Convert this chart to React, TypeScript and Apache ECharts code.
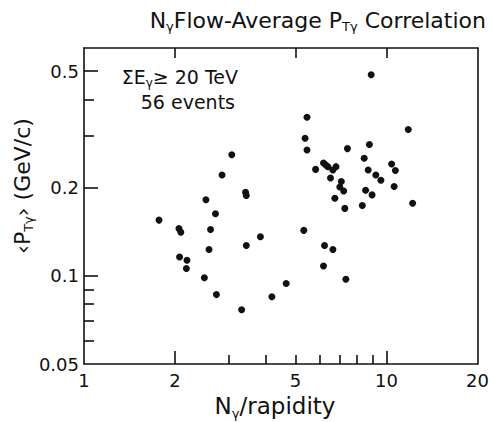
import React, { useEffect, useRef } from "react";
import * as echarts from "echarts";

// N_gamma per unit rapidity (x) and mean transverse momentum <P_T gamma> in GeV/c (y), one entry per event
const nGammaPerRapidity: number[] = [
  1.77, 2.06, 2.09, 2.07, 2.19, 2.18, 2.5, 2.53, 2.59, 2.62,
  2.72, 2.74, 2.86, 3.08, 3.32, 3.42, 3.44, 3.44, 3.83, 4.18,
  4.66, 5.33, 5.38, 5.46, 5.46, 5.83, 6.19, 6.24, 6.65, 6.19,
  6.4, 6.81, 6.65, 6.53, 7.09, 7.01, 7.22, 6.75, 7.28, 7.34,
  7.43, 8.32, 8.44, 8.53, 8.7, 8.78, 8.96, 8.9, 9.22, 9.58,
  10.4, 10.7, 10.6, 11.8, 12.2, 6.3,
];
const meanPtGamma: number[] = [
  0.155, 0.145, 0.141, 0.116, 0.113, 0.106, 0.0985, 0.182, 0.123, 0.144,
  0.163, 0.0863, 0.221, 0.259, 0.0766, 0.193, 0.188, 0.127, 0.136, 0.0849,
  0.0942, 0.143, 0.295, 0.269, 0.348, 0.231, 0.108, 0.127, 0.123, 0.243,
  0.236, 0.236, 0.23, 0.216, 0.21, 0.201, 0.195, 0.184, 0.17, 0.0973,
  0.272, 0.174, 0.252, 0.196, 0.23, 0.281, 0.189, 0.486, 0.221, 0.212,
  0.241, 0.229, 0.202, 0.316, 0.177, 0.239,
];

const xLabelValues: number[] = [1, 2, 5, 10, 20];
const xMajorTicks: number[] = [2, 10];
const xMinorTicks: number[] = [3, 4, 5, 6, 7, 8, 9];
const xTopTicks: number[] = [2, 5, 10];
const yLabelValues: number[] = [0.05, 0.1, 0.2, 0.5];
const yMajorTicks: number[] = [0.1, 0.2, 0.5];
const yMinorTicks: number[] = [0.06, 0.07, 0.08, 0.09, 0.3, 0.4];

const X_MIN = 1;
const X_MAX = 20;
const Y_MIN = 0.05;
const Y_MAX = 0.6;

const FONT = "DejaVu Sans";
const INK = "#111";

export default function App() {
  const ref = useRef<HTMLDivElement>(null);

  useEffect(() => {
    document.body.style.margin = "0";
    if (!ref.current) return;
    const chart = echarts.init(ref.current, undefined, { renderer: "svg" });
    const data = nGammaPerRapidity.map((x, i) => [x, meanPtGamma[i]]);
    const fmt = (v: number) => String(Number(v.toPrecision(3)));

    const baseX = {
      type: "log" as const,
      logBase: 10,
      min: X_MIN,
      max: X_MAX,
      gridIndex: 0,
      splitLine: { show: false },
    };
    const baseY = {
      type: "log" as const,
      logBase: 10,
      min: Y_MIN,
      max: Y_MAX,
      gridIndex: 0,
      splitLine: { show: false },
    };
    const lineStyle = { color: INK, width: 1.6 };

    chart.setOption({
      animation: false,
      backgroundColor: "#fff",
      grid: { left: 84, right: 12, top: 48, bottom: 58, containLabel: false },
      xAxis: [
        {
          ...baseX,
          position: "bottom",
          axisLine: { show: true, lineStyle },
          axisTick: { show: true, inside: true, length: 13, customValues: xMajorTicks, lineStyle },
          axisLabel: {
            show: true,
            customValues: xLabelValues,
            formatter: fmt,
            margin: 7,
            fontFamily: FONT,
            fontSize: 18,
            color: INK,
          },
        },
        {
          ...baseX,
          position: "bottom",
          axisLine: { show: false },
          axisTick: { show: true, inside: true, length: 9, customValues: xMinorTicks, lineStyle },
          axisLabel: { show: false },
        },
        {
          ...baseX,
          position: "top",
          axisLine: { show: true, lineStyle },
          axisTick: { show: true, inside: true, length: 10, customValues: xTopTicks, lineStyle },
          axisLabel: { show: false },
        },
      ],
      yAxis: [
        {
          ...baseY,
          position: "left",
          axisLine: { show: true, lineStyle },
          axisTick: { show: true, inside: true, length: 14, customValues: yMajorTicks, lineStyle },
          axisLabel: {
            show: true,
            customValues: yLabelValues,
            formatter: fmt,
            margin: 5,
            fontFamily: FONT,
            fontSize: 18,
            color: INK,
          },
        },
        {
          ...baseY,
          position: "left",
          axisLine: { show: false },
          axisTick: { show: true, inside: true, length: 10, customValues: yMinorTicks, lineStyle },
          axisLabel: { show: false },
        },
        {
          ...baseY,
          position: "right",
          axisLine: { show: true, lineStyle },
          axisTick: { show: false },
          axisLabel: { show: false },
        },
      ],
      series: [
        {
          type: "scatter",
          xAxisIndex: 0,
          yAxisIndex: 0,
          data,
          symbol: "circle",
          symbolSize: 7,
          itemStyle: { color: INK, opacity: 1 },
        },
      ],
      graphic: [
        {
          type: "text",
          x: 486,
          y: 20,
          style: {
            text: "{a|N}{b|γ}{a|Flow-Average P}{b|Tγ}{a| Correlation}",
            align: "right",
            verticalAlign: "middle",
            rich: {
              a: { fontFamily: FONT, fontSize: 22, lineHeight: 26, fill: INK },
              b: { fontFamily: FONT, fontSize: 13, lineHeight: 13, verticalAlign: "bottom", fill: INK },
            },
          },
        },
        {
          type: "text",
          x: 238,
          y: 77,
          style: {
            text: "{a|ΣE}{b|γ}{a|≥ 20 TeV}",
            align: "right",
            verticalAlign: "middle",
            rich: {
              a: { fontFamily: FONT, fontSize: 19, lineHeight: 23, fill: INK },
              b: { fontFamily: FONT, fontSize: 12, lineHeight: 12, verticalAlign: "bottom", fill: INK },
            },
          },
        },
        {
          type: "text",
          x: 235,
          y: 102,
          style: {
            text: "56 events",
            align: "right",
            verticalAlign: "middle",
            fontFamily: FONT,
            fontSize: 19,
            fill: INK,
          },
        },
        {
          type: "text",
          x: 275,
          y: 406,
          style: {
            text: "{a|N}{b|γ}{a|/rapidity}",
            align: "center",
            verticalAlign: "middle",
            rich: {
              a: { fontFamily: FONT, fontSize: 23, lineHeight: 27, fill: INK },
              b: { fontFamily: FONT, fontSize: 13, lineHeight: 13, verticalAlign: "bottom", fill: INK },
            },
          },
        },
        {
          type: "text",
          x: 22,
          y: 186,
          rotation: Math.PI / 2,
          style: {
            text: "{a|‹P}{b|Tγ}{a|› (GeV/c)}",
            align: "center",
            verticalAlign: "middle",
            rich: {
              a: { fontFamily: FONT, fontSize: 22, lineHeight: 26, fill: INK },
              b: { fontFamily: FONT, fontSize: 13, lineHeight: 13, verticalAlign: "bottom", fill: INK },
            },
          },
        },
      ],
    });

    return () => chart.dispose();
  }, []);

  return <div ref={ref} style={{ width: 492, height: 422 }} />;
}
